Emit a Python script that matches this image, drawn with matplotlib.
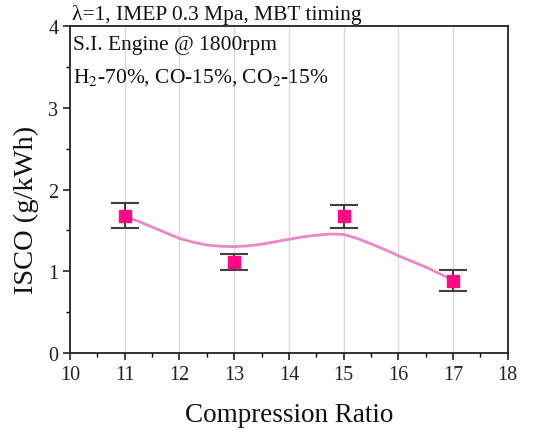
import matplotlib
matplotlib.use("Agg")
import matplotlib.pyplot as plt

# Data
cr = [11, 13, 15, 17]
isco = [1.68, 1.11, 1.67, 0.885]
isco_err = [0.157, 0.10, 0.14, 0.13]

curve_x = [11, 11.25, 11.5, 11.75, 12, 12.25, 12.5, 12.75, 13, 13.25, 13.5, 13.75,
           14, 14.25, 14.5, 14.75, 15, 15.25, 15.5, 15.75, 16, 16.25, 16.5, 16.75, 17]
curve_y = [1.67, 1.61, 1.54, 1.47, 1.40, 1.355, 1.32, 1.305, 1.30, 1.31, 1.33, 1.36,
           1.39, 1.42, 1.44, 1.455, 1.45, 1.40, 1.335, 1.265, 1.19, 1.12, 1.05, 0.97, 0.89]

xticks = [10, 11, 12, 13, 14, 15, 16, 17, 18]
yticks = [0, 1, 2, 3, 4]

plt.rcParams['font.family'] = ['Liberation Serif', 'DejaVu Serif']
plt.rcParams['mathtext.fontset'] = 'stix'

fig = plt.figure(figsize=(5.39, 4.31), dpi=100)
ax = fig.add_axes([0.130, 0.179, 0.812, 0.758])

for x in xticks[1:-1]:
    ax.axvline(x, color='#d9d9d9', lw=1.0, zorder=0)

ax.plot(curve_x, curve_y, color='#ec86c6', lw=2.0, zorder=2)
ax.errorbar(cr, isco, yerr=isco_err, fmt='none', ecolor='#404040', elinewidth=1.5,
            capsize=10, capthick=1.5, zorder=3)
ax.plot(cr, isco, 's', color='#ff0a84', markersize=8, zorder=4)

ax.set_xlim(10, 18)
ax.set_ylim(0, 4)
ax.set_xticks(xticks)
ax.set_yticks(yticks)
ax.set_xticks([10.5 + i for i in range(8)], minor=True)
ax.set_yticks([0.5 + i for i in range(4)], minor=True)
ax.tick_params(which='major', direction='out', length=5, width=1.2, labelsize=14.5,
               colors='#222222', top=False, right=False)
ax.tick_params(which='minor', direction='out', length=3, width=1.0, top=False, right=False)
for s in ax.spines.values():
    s.set_linewidth(1.3)
    s.set_color('#222222')

ax.set_xlabel('Compression Ratio', fontsize=19.5, labelpad=13, color='#111111')
ax.set_ylabel('ISCO (g/kWh)', fontsize=20.5, color='#111111')
ax.yaxis.set_label_coords(-0.072, 0.44)

ax.text(0.005, 1.008, 'λ=1, IMEP 0.3 Mpa, MBT timing', transform=ax.transAxes,
        fontsize=15.5, ha='left', va='bottom', color='#111111')
ax.text(0.007, 0.972, 'S.I. Engine @ 1800rpm', transform=ax.transAxes,
        fontsize=15.5, ha='left', va='top', color='#111111')
ax.text(0.007, 0.878, r'H$_2$-70%, CO-15%, CO$_2$-15%', transform=ax.transAxes,
        fontsize=15.5, ha='left', va='top', color='#111111')

fig.savefig('out.png', dpi=100)
